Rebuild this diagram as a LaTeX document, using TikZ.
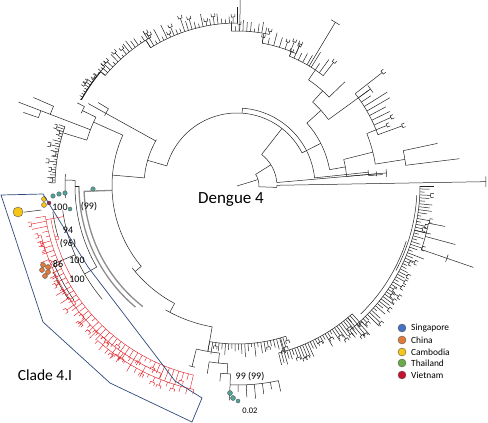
\documentclass[tikz,border=0pt]{standalone}
\usepackage{fontspec}
\setmainfont{Carlito}
\definecolor{tree}{HTML}{222222}
\definecolor{cladered}{HTML}{E3141B}
\definecolor{boxblue}{HTML}{2E4A7A}
\definecolor{sgp}{HTML}{4472C4}
\definecolor{chn}{HTML}{E07B39}
\definecolor{khm}{HTML}{F5C518}
\definecolor{tha}{HTML}{6BAA4A}
\definecolor{vnm}{HTML}{C41230}
\definecolor{teal}{HTML}{4FA59A}
\definecolor{hl}{HTML}{8C8C8C}
\tikzset{
 pdot/.style={circle, draw=black!65, line width=0.4pt, inner sep=0pt, minimum size=#1},
 pdot/.default=5pt,
 boot/.style={font=\fontsize{10}{10}\selectfont, inner sep=0pt},
 legtext/.style={font=\fontsize{9.4}{10}\selectfont, anchor=west, inner sep=0pt},
}
\newcommand\parc[3]{\draw (#1:#3) arc[start angle=#1,end angle=#2,radius=#3];}
\newcommand\rad[3]{\draw (#1:#2) -- (#1:#3);}
\newcommand\tipset[6]{%
  \parc{#1}{#2}{#3}%
  \foreach \k in {0,...,#4}{%
    \pgfmathsetmacro\tang{#1+(#2-#1)*\k/#4}%
    \pgfmathsetmacro\tlen{#3+#5+rnd*(#6-#5)}%
    \draw (\tang:#3) -- (\tang:\tlen);%
    \pgfmathtruncatemacro\fork{rnd<0.3 ? 1 : 0}%
    \ifnum\fork=1
      \pgfmathsetmacro\ta{\tang-0.6}\pgfmathsetmacro\tb{\tang+0.6}\pgfmathsetmacro\tc{\tlen+3}%
      \draw (\ta:\tc) -- (\ta:\tlen) arc[start angle=\ta,end angle=\tb,radius=\tlen] -- (\tb:\tc);%
    \fi
  }}
\begin{document}
\begin{tikzpicture}[x=1pt,y=1pt]
\begin{scope}[yscale=-1]
\useasboundingbox (0,0) rectangle (488,423);
\pgfmathsetseed{7}
% ---------------- tree ----------------
\begin{scope}[shift={(237,186)}, color=tree, line width=0.5pt]
% root and inner nodes
\draw (0,0) -- (-17:22);
\parc{-32}{2}{22}
\rad{2}{22}{40}
\parc{-1}{2}{40}
\rad{-1}{40}{249}
\parc{-2.2}{0.2}{249}
\rad{-32}{22}{40}
\parc{-52}{-5}{40}
\rad{-5}{40}{140}
\parc{-6}{-4}{140}
\rad{-52}{40}{73}
\parc{196}{333}{73}
\rad{274}{73}{78}
\parc{274}{354}{78}
\rad{354}{78}{132}
\parc{353}{355.5}{132}
\rad{355.5}{132}{146}
% right cluster
\rad{-27}{73}{94}
\parc{-42}{-10}{94}
\rad{-10}{94}{110}
\parc{-14}{-5}{110}
\rad{-5}{110}{150}
\parc{-6.5}{-3.5}{150}
\rad{-14}{110}{140}
\parc{-22}{-9}{140}
\rad{-9}{140}{170}
\parc{-12}{-7}{170}
\rad{-12}{170}{205}
\rad{-7}{170}{224}
\rad{-22}{140}{150}
\tipset{-38}{-20}{150}{9}{8}{38}
% top-right chain
\rad{-42}{94}{113}
\parc{-48}{-36}{113}
\rad{-36}{113}{165}
\parc{-37.5}{-34.5}{165}
\rad{-48}{113}{128}
\parc{-56}{-44}{128}
\rad{-44}{128}{150}
\rad{-56}{128}{140}
\tipset{-68}{-52}{140}{8}{4}{18}
\rad{-59}{140}{191}
\parc{-60.5}{-57.5}{191}
\rad{-68}{140}{145}
\tipset{-80}{-66}{145}{6}{3}{14}
\rad{-80}{145}{155}
\tipset{-92}{-78}{155}{10}{3}{12}
\rad{-89}{155}{186}
\rad{-92}{155}{163}
\tipset{-122}{-90}{163}{24}{3}{18}
\rad{-122}{163}{172}
\tipset{-140}{-120}{172}{16}{2}{12}
\rad{-140}{172}{178}
\tipset{-151}{-138}{178}{14}{1}{7}
\draw[line width=1.1pt] (-151:178) arc[start angle=-151,end angle=-140,radius=178];
% upper-left clade
\rad{196}{73}{93}
\parc{185}{210}{93}
\rad{209}{93}{170}
\parc{208}{211}{150}
\rad{211}{150}{162}
\rad{185}{93}{125}
\parc{140}{204}{125}
\rad{204}{125}{157}
\parc{197}{206}{157}
\rad{206}{157}{172}
\parc{205}{207.5}{172}
\rad{207.5}{172}{180}
\rad{201}{157}{234}
\parc{201}{203.5}{200}
\rad{203.5}{200}{222}
\parc{199}{201}{210}
\rad{199}{210}{226}
\rad{197}{157}{182}
\tipset{181}{199}{182}{22}{2}{9}
% lower caterpillar
\rad{140}{125}{133}
\parc{118}{142}{133}
\rad{118}{133}{143}
\parc{100}{120}{143}
\rad{100}{143}{158}
\tipset{72}{100}{158}{24}{3}{14}
\rad{74}{158}{172}
\tipset{48}{76}{172}{30}{3}{16}
\rad{50}{172}{183}
\tipset{0}{52}{183}{56}{3}{18}
\parc{18}{46}{178}
\parc{3}{28}{180}
% right subclade
\rad{14}{183}{195}
\parc{11}{19}{195}
\rad{11}{195}{212}
\rad{15}{195}{226}
\rad{19}{195}{250}
\parc{18}{20}{222}
% bottom subclade
\rad{100}{158}{168}
\parc{96}{104}{168}
\rad{104}{168}{186}
\parc{103}{105}{186}
\rad{96}{168}{178}
\parc{93}{99}{178}
\rad{99}{178}{190}
\rad{93}{178}{188}
\parc{92}{95}{188}
\rad{95}{188}{196}
\rad{92}{188}{199}
\tipset{78}{92}{199}{6}{5}{18}
% clade 4.I backbone (grey highlighted)
\begin{scope}[color=hl, line width=1.3pt]
\rad{178}{125}{153}
\parc{128}{178}{153}
\parc{130}{180}{158}
\end{scope}
\rad{180}{158}{162}
\parc{150}{182}{162}
\rad{182}{162}{172}
\parc{176}{184}{172}
\rad{150}{162}{176}
\parc{140}{172}{176}
\parc{164}{172}{186}
\rad{157}{176}{199}
\parc{145}{157}{199}
\parc{146}{155}{203}
% red clade
\begin{scope}[color=cladered, line width=0.4pt]
\rad{170}{176}{194}
\tipset{103}{171}{194}{46}{3}{16}
\tipset{112}{166}{202}{22}{2}{10}
\tipset{102}{132}{208}{16}{2}{9}
\parc{150}{170}{189}
\end{scope}
\rad{173}{197}{215}
\end{scope}
% ---------------- coloured tips ----------------
\node[pdot=10pt, fill=khm] (camBig) at (18,212) {};
\node[pdot=5pt, fill=khm] (cam1) at (44,199) {};
\node[pdot=5pt, fill=khm] (cam2) at (44,205) {};
\node[pdot=4pt, fill=vnm] (vie1) at (49,203) {};
\node[pdot=4.5pt, fill=teal] (tha1) at (53,196) {};
\node[pdot=4.5pt, fill=teal] (tha2) at (59,194) {};
\node[pdot=4.5pt, fill=teal] (tha3) at (65,193) {};
\node[pdot=4.5pt, fill=teal] (sgp1) at (93,189) {};
\node[pdot=4pt, fill=teal] (sgp2) at (70,209) {};
\node[pdot=4pt, draw=cladered, fill=white] (vie2) at (57,238) {};
\node[pdot=5pt, fill=chn] (chn1) at (43,265) {};
\node[pdot=5pt, fill=chn] (chn2) at (48,267) {};
\node[pdot=5pt, fill=chn] (chn3) at (42,270) {};
\node[pdot=5pt, fill=chn] (chn4) at (48,272) {};
\node[pdot=5pt, fill=chn] (chn5) at (45,276) {};
\node[pdot=5pt, fill=teal] (bt1) at (230,393) {};
\node[pdot=5pt, fill=teal] (bt2) at (233,398) {};
\node[pdot=4pt, fill=teal] (bt3) at (238,401) {};
% ---------------- clade box ----------------
\draw[boxblue, line width=0.7pt] (1,195) -- (43,194) -- (88,267) -- (175,381) -- (202,398) -- (192,422) -- (110,383) -- (43,322) -- cycle;
% ---------------- labels ----------------
\node[boot] (b1) at (60,207) {100};
\node[boot] (b2) at (89,207) {(99)};
\node[boot] (b3) at (68,230) {94};
\node[boot] (b4) at (68,244) {(96)};
\node[boot] (b5) at (77,260) {100};
\node[boot] (b6) at (58,264) {86};
\node[boot] (b7) at (77,279) {100};
\node[boot] (b8) at (250,377) {99 (99)};
\node[font=\fontsize{8.5}{9}\selectfont, inner sep=0pt] (scale) at (250,411) {0.02};
\node[font=\fontsize{17}{18}\selectfont, inner sep=0pt] (title) at (231,200) {Dengue 4};
\node[font=\fontsize{15.5}{16}\selectfont, inner sep=0pt] (clade) at (45,375) {Clade 4.I};
% ---------------- legend ----------------
\node[pdot=8pt, fill=sgp] (l1) at (402,328) {};
\node[pdot=8pt, fill=chn] (l2) at (402,340) {};
\node[pdot=8pt, fill=khm] (l3) at (402,352) {};
\node[pdot=8pt, fill=tha] (l4) at (402,363) {};
\node[pdot=8pt, fill=vnm] (l5) at (402,375) {};
\node[legtext] at (411,328) {Singapore};
\node[legtext] at (411,340) {China};
\node[legtext] at (411,352) {Cambodia};
\node[legtext] at (411,363) {Thailand};
\node[legtext] at (411,375) {Vietnam};
\end{scope}
\end{tikzpicture}
\end{document}
